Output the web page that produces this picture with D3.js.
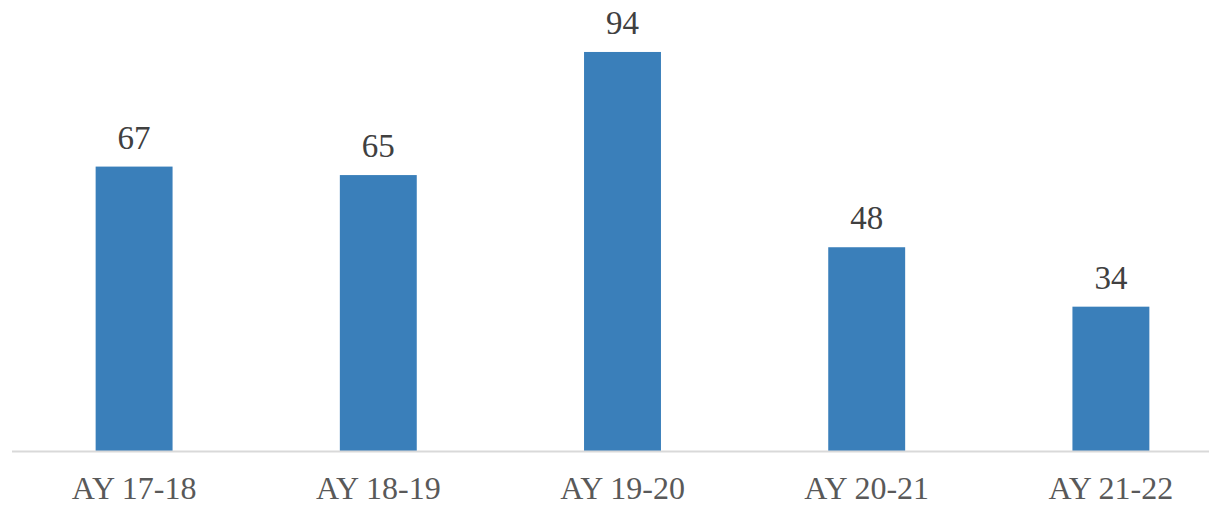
<!DOCTYPE html>
<html>
<head>
<meta charset="utf-8">
<script src="https://cdn.jsdelivr.net/npm/d3@7"></script>
<style>
  body { margin: 0; background: #fff; }
  text { font-family: "Liberation Serif", serif; }
</style>
</head>
<body>
<script>
var WIDTH = 1209;
var HEIGHT = 507;

var categories = ["AY 17-18", "AY 18-19", "AY 19-20", "AY 20-21", "AY 21-22"];
var values = [67, 65, 94, 48, 34];

var svg = d3.select("body").append("svg")
  .attr("width", WIDTH)
  .attr("height", HEIGHT);

var x = d3.scaleBand()
  .domain(categories)
  .range([12, 1233])
  .paddingInner(0.685)
  .paddingOuter(0.3425);

var y = d3.scaleLinear()
  .domain([0, 100])
  .range([451, 26.5]);

// bars
svg.selectAll("rect.bar")
  .data(values)
  .enter()
  .append("rect")
  .attr("class", "bar")
  .attr("x", (d, i) => x(categories[i]))
  .attr("y", d => y(d))
  .attr("width", x.bandwidth())
  .attr("height", d => y(0) - y(d))
  .attr("fill", "#3a7fba");

// baseline
svg.append("line")
  .attr("x1", 12)
  .attr("x2", WIDTH)
  .attr("y1", y(0) + 0.5)
  .attr("y2", y(0) + 0.5)
  .attr("stroke", "#d9d9d9")
  .attr("stroke-width", 2);

// value labels
svg.selectAll("text.value")
  .data(values)
  .enter()
  .append("text")
  .attr("class", "value")
  .attr("x", (d, i) => x(categories[i]) + x.bandwidth() / 2)
  .attr("y", d => y(d) - 18)
  .attr("text-anchor", "middle")
  .attr("font-size", "33px")
  .attr("fill", "#404040")
  .text(d => d);

// category labels
svg.selectAll("text.cat")
  .data(categories)
  .enter()
  .append("text")
  .attr("class", "cat")
  .attr("x", d => x(d) + x.bandwidth() / 2)
  .attr("y", 499)
  .attr("text-anchor", "middle")
  .attr("font-size", "32px")
  .attr("fill", "#595959")
  .text(d => d);
</script>
</body>
</html>
